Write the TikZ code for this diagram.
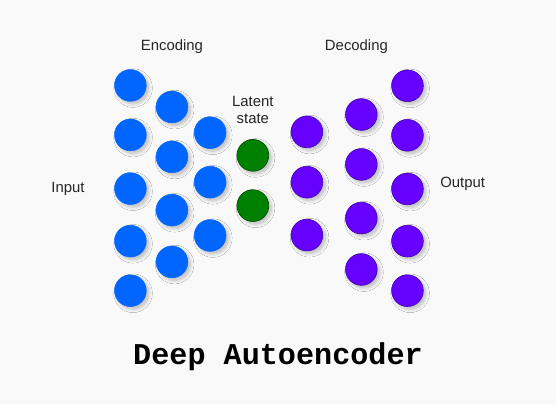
\documentclass[tikz,border=0pt]{standalone}
\usepackage{fontspec}
\setmainfont{Liberation Sans}
\newfontfamily\titlefont{Liberation Mono}
\usetikzlibrary{shadows.blur}
\definecolor{bgpaper}{RGB}{249,249,250}
\definecolor{encblue}{RGB}{0,102,255}
\definecolor{latgreen}{RGB}{0,128,0}
\definecolor{latedge}{RGB}{0,80,0}
\definecolor{decpurple}{RGB}{102,0,255}
\definecolor{decedge}{RGB}{60,0,170}
\tikzset{
  neuron/.style={circle, minimum size=0.84cm, inner sep=0pt,
    blur shadow={shadow xshift=0.07cm, shadow yshift=-0.07cm, shadow blur steps=6, shadow opacity=25, shadow blur radius=0.09cm}},
  encnode/.style={neuron, fill=encblue, draw=encblue},
  latnode/.style={neuron, fill=latgreen, draw=latedge, line width=0.5pt},
  decnode/.style={neuron, fill=decpurple, draw=decedge, line width=0.4pt},
  caption/.style={font=\fontsize{11.2}{13.5}\selectfont, text=black!85, align=center}
}
\begin{document}
\begin{tikzpicture}

			\fill[bgpaper] (0,0) rectangle (14.71,-10.69);
			\useasboundingbox (0,0) rectangle (14.71,-10.69);

			% labels
			\node[caption] (encoding) at (4.55,-1.24) {Encoding};
			\node[caption] (decoding) at (9.43,-1.24) {Decoding};
			\node[caption] (latent) at (6.69,-2.91) {Latent\\state};
			\node[caption] (input) at (1.80,-5.0) {Input};
			\node[caption] (output) at (12.24,-4.87) {Output};

			% input layer
			\node[encnode] (in1) at (3.45,-2.26) {};
			\node[encnode] (in2) at (3.45,-3.57) {};
			\node[encnode] (in3) at (3.45,-4.99) {};
			\node[encnode] (in4) at (3.45,-6.38) {};
			\node[encnode] (in5) at (3.45,-7.69) {};
			% encoder hidden layers
			\node[encnode] (enca1) at (4.55,-2.83) {};
			\node[encnode] (enca2) at (4.55,-4.15) {};
			\node[encnode] (enca3) at (4.55,-5.56) {};
			\node[encnode] (enca4) at (4.55,-6.93) {};
			\node[encnode] (encb1) at (5.56,-3.51) {};
			\node[encnode] (encb2) at (5.56,-4.82) {};
			\node[encnode] (encb3) at (5.56,-6.23) {};

			% latent state
			\node[latnode] (lat1) at (6.69,-4.11) {};
			\node[latnode] (lat2) at (6.69,-5.44) {};

			% decoder hidden layers
			\node[decnode] (deca1) at (8.12,-3.49) {};
			\node[decnode] (deca2) at (8.12,-4.82) {};
			\node[decnode] (deca3) at (8.12,-6.22) {};
			\node[decnode] (decb1) at (9.56,-3.03) {};
			\node[decnode] (decb2) at (9.56,-4.35) {};
			\node[decnode] (decb3) at (9.56,-5.77) {};
			\node[decnode] (decb4) at (9.56,-7.13) {};
			% output layer
			\node[decnode] (out1) at (10.78,-2.27) {};
			\node[decnode] (out2) at (10.78,-3.58) {};
			\node[decnode] (out3) at (10.78,-5.0) {};
			\node[decnode] (out4) at (10.78,-6.38) {};
			\node[decnode] (out5) at (10.78,-7.69) {};

			% title
			\node[anchor=base, text=black, font=\titlefont\bfseries\fontsize{22.7}{26}\selectfont] (title) at (7.355,-9.64) {Deep Autoencoder};

	\end{tikzpicture}
\end{document}
